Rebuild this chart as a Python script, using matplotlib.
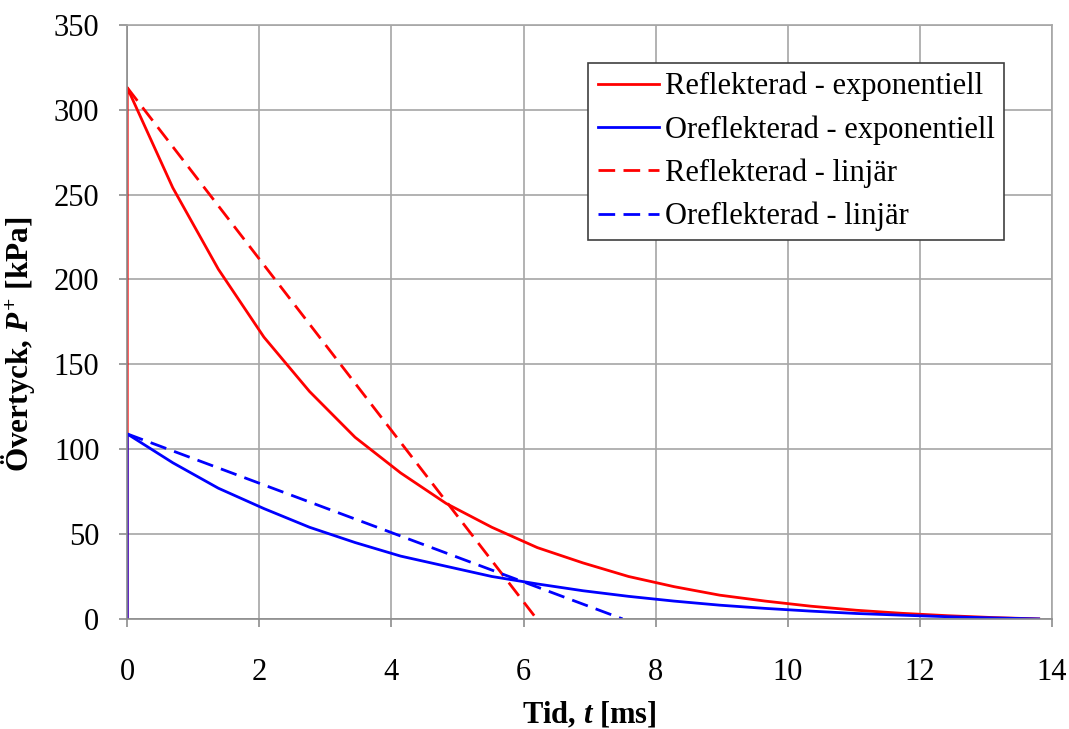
import matplotlib
matplotlib.use('Agg')
import matplotlib.pyplot as plt

plt.rcParams['font.family'] = ['Liberation Serif', 'DejaVu Serif']
plt.rcParams['mathtext.fontset'] = 'custom'
plt.rcParams['mathtext.rm'] = 'Liberation Serif:bold'
plt.rcParams['mathtext.it'] = 'Liberation Serif:bold:italic'
plt.rcParams['mathtext.bf'] = 'Liberation Serif:bold'

# time points of the exponential (Friedlander-type) curves [ms]
t_exp = [0, 0, 0.69, 1.38, 2.07, 2.76, 3.45, 4.14, 4.83, 5.52, 6.21, 6.9,
         7.59, 8.28, 8.97, 9.66, 10.35, 11.04, 11.73, 12.42, 13.11, 13.8]
refl_exp = [0, 313, 254, 206, 166, 134, 107, 86, 68, 54, 42, 33,
            25, 19, 14, 10.5, 7.5, 5.1, 3.3, 1.9, 0.8, 0]
orefl_exp = [0, 109, 92, 77, 65, 54, 45, 37, 31, 25, 20.6, 16.6,
             13.3, 10.5, 8.1, 6.2, 4.6, 3.2, 2.2, 1.3, 0.6, 0]

t_refl_lin = [0, 6.2]
refl_lin = [313, 0]
t_orefl_lin = [0, 7.5]
orefl_lin = [109, 0]

fig = plt.figure(figsize=(10.69, 7.29), dpi=100)
ax = fig.add_axes([0.119, 0.151, 0.865, 0.815])

lw = 2.0
dash = (0, (6, 3))
ax.plot(t_exp, refl_exp, color='#ff0000', lw=lw, label='Reflekterad - exponentiell')
ax.plot(t_exp, orefl_exp, color='#0000ff', lw=lw, label='Oreflekterad - exponentiell')
ax.plot(t_refl_lin, refl_lin, color='#ff0000', lw=lw, ls=dash, label='Reflekterad - linjär')
ax.plot(t_orefl_lin, orefl_lin, color='#0000ff', lw=lw, ls=dash, label='Oreflekterad - linjär')

ax.set_xlim(0, 14)
ax.set_ylim(0, 350)
ax.set_xticks(range(0, 15, 2))
ax.set_yticks(range(0, 351, 50))
ax.grid(True, color='#a6a6a6', lw=1.2)
ax.set_axisbelow(True)
for s in ax.spines.values():
    s.set_color('#a6a6a6')
    s.set_linewidth(1.2)
ax.spines['left'].set_color('#8c8c8c')
ax.spines['bottom'].set_color('#8c8c8c')
ax.tick_params(axis='both', color='#8c8c8c', length=6, width=1.2, labelsize=22)
ax.tick_params(axis='x', pad=22)
ax.tick_params(axis='y', pad=14)

ax.set_xlabel('Tid, $t$ [ms]', fontsize=22, fontweight='bold', labelpad=10)
ax.set_ylabel('Övertyck, $P^{+}$ [kPa]', fontsize=22.5, fontweight='bold')
ax.yaxis.set_label_coords(-0.098, 0.463)

leg = ax.legend(loc='upper right', bbox_to_anchor=(0.948, 0.936), fontsize=22,
                frameon=True, fancybox=False, handlelength=2.0, handletextpad=0.2,
                borderpad=0.3, labelspacing=0.45, borderaxespad=0)
leg.get_frame().set_edgecolor('#404040')
leg.get_frame().set_linewidth(1.2)
leg.get_frame().set_alpha(1)

fig.savefig('out.png', dpi=100)
